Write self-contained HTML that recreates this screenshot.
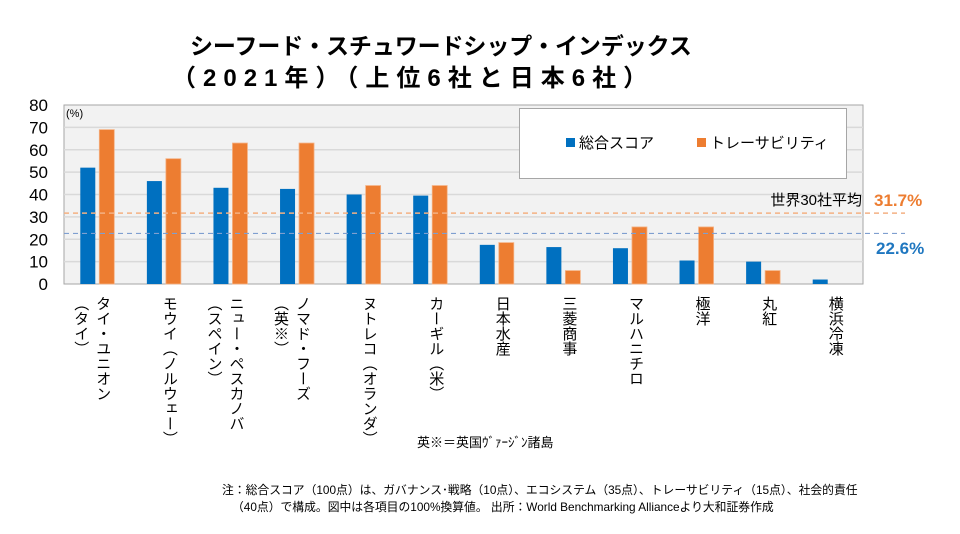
<!DOCTYPE html>
<html><head><meta charset="utf-8">
<style>
body{margin:0;width:960px;height:534px;background:#fff;overflow:hidden;position:relative;font-family:"Liberation Sans","Noto Sans CJK JP",sans-serif;}
.title{position:absolute;font-weight:bold;font-size:23px;color:#000;white-space:nowrap;}
.xl{position:absolute;top:296px;writing-mode:vertical-rl;font-size:15px;line-height:22px;color:#000;white-space:nowrap;}
.note{position:absolute;font-size:11.8px;color:#000;white-space:nowrap;}
</style></head>
<body>
<div class="title" style="top:27px;left:190px;letter-spacing:-0.1px;">シーフード・スチュワードシップ・インデックス</div>
<div class="title" style="top:58px;left:172px;font-size:24px;letter-spacing:7px;">（2021年）（上位6社と日本6社）</div>
<svg id="chart" width="960" height="534" style="position:absolute;left:0;top:0"></svg>
<div id="labels"></div>
<div class="note" style="left:417px;top:432px;font-size:13px;">英※＝英国ｳﾞｧｰｼﾞﾝ諸島</div>
<div class="note" style="left:222px;top:481px;">注：総合スコア（100点）は、ガバナンス･戦略（10点）、エコシステム（35点）、トレーサビリティ（15点）、社会的責任</div>
<div class="note" style="left:232px;top:498px;">（40点）で構成。図中は各項目の100%換算値。 出所：World Benchmarking Allianceより大和証券作成</div>
<script>
const categories=[["タイ・ユニオン","（タイ）"],["モウイ（ノルウェー）"],["ニュー・ペスカノバ","（スペイン）"],["ノマド・フーズ","（英※）"],["ヌトレコ（オランダ）"],["カーギル（米）"],["日本水産"],["三菱商事"],["マルハニチロ"],["極洋"],["丸紅"],["横浜冷凍"]];
const totalScore=[52,46,43,42.5,40,39.5,17.5,16.5,16,10.5,10,2];
const traceability=[69,56,63,63,44,44,18.5,6,25.5,25.5,6,0];
const yTicks=[0,10,20,30,40,50,60,70,80];
const avgTotal=22.6;
const avgTrace=31.7;
const NS="http://www.w3.org/2000/svg";
const svg=document.getElementById('chart');
const L=64,R=863,T=105,B=284,yMax=80;
const y=v=>B-(v/yMax)*(B-T);
const band=(R-L)/categories.length;
const xc=i=>L+band*(i+0.5);
function mk(tag,attrs){const e=document.createElementNS(NS,tag);for(const k in attrs)e.setAttribute(k,attrs[k]);svg.appendChild(e);return e;}
let e=mk('rect',{x:L,y:T,width:R-L,height:B-T,fill:'#f2f2f2',stroke:'#a6a6a6','stroke-width':1});

yTicks.forEach(t=>{
 if(t>0&&t<yMax){const g=mk('line',{x1:L,x2:R,y1:y(t),y2:y(t),stroke:'#d9d9d9','stroke-width':1.5});
 }
 const tx=mk('text',{x:48,y:y(t)+6,'text-anchor':'end','font-size':17,fill:'#000'});tx.textContent=t;
 
});
const pct=mk('text',{x:66,y:117,'font-size':11,fill:'#000'});pct.textContent='(%)';

const bw=15,gap=4;
categories.forEach((c,i)=>{
 const b1=mk('rect',{x:xc(i)-gap/2-bw,y:y(totalScore[i]),width:bw,height:B-y(totalScore[i]),fill:'#0070c0'});
 
 if(traceability[i]>0){const b2=mk('rect',{x:xc(i)+gap/2,y:y(traceability[i]),width:bw,height:B-y(traceability[i]),fill:'#ed7d31',stroke:'#f4b183','stroke-width':0.8});
 }
 c.forEach((line,j)=>{
  const d=document.createElement('div');d.className='xl';d.textContent=line;
  d.style.left=(xc(i)-6-j*22)+'px';
  
  
  document.getElementById('labels').appendChild(d);
 });
});
let a1=mk('line',{x1:L,x2:905,y1:y(avgTrace),y2:y(avgTrace),stroke:'#f4b183','stroke-width':1.5,'stroke-dasharray':'5,4'});

let a2=mk('line',{x1:L,x2:905,y1:y(avgTotal),y2:y(avgTotal),stroke:'#7f9fd0','stroke-width':1.2,'stroke-dasharray':'5,4'});

let t1=mk('text',{x:862,y:205,'text-anchor':'end','font-size':15,fill:'#000'});t1.textContent='世界30社平均';

let t2=mk('text',{x:874,y:206,'font-size':17,'font-weight':'bold',fill:'#ed7d31'});t2.textContent=avgTrace.toFixed(1)+'%';

let t3=mk('text',{x:876,y:254,'font-size':17,'font-weight':'bold',fill:'#1f77c0'});t3.textContent=avgTotal.toFixed(1)+'%';

let lg=mk('rect',{x:519.5,y:108.5,width:327,height:70,fill:'#fff',stroke:'#a6a6a6','stroke-width':1});

let s1=mk('rect',{x:566,y:138,width:9,height:9,fill:'#0070c0'});
let l1=mk('text',{x:579,y:148,'font-size':15,fill:'#000'});l1.textContent='総合スコア';
let s2=mk('rect',{x:697,y:138,width:9,height:9,fill:'#ed7d31'});
let l2=mk('text',{x:710,y:148,'font-size':15,fill:'#000'});l2.textContent='トレーサビリティ';
</script>
</body></html>
